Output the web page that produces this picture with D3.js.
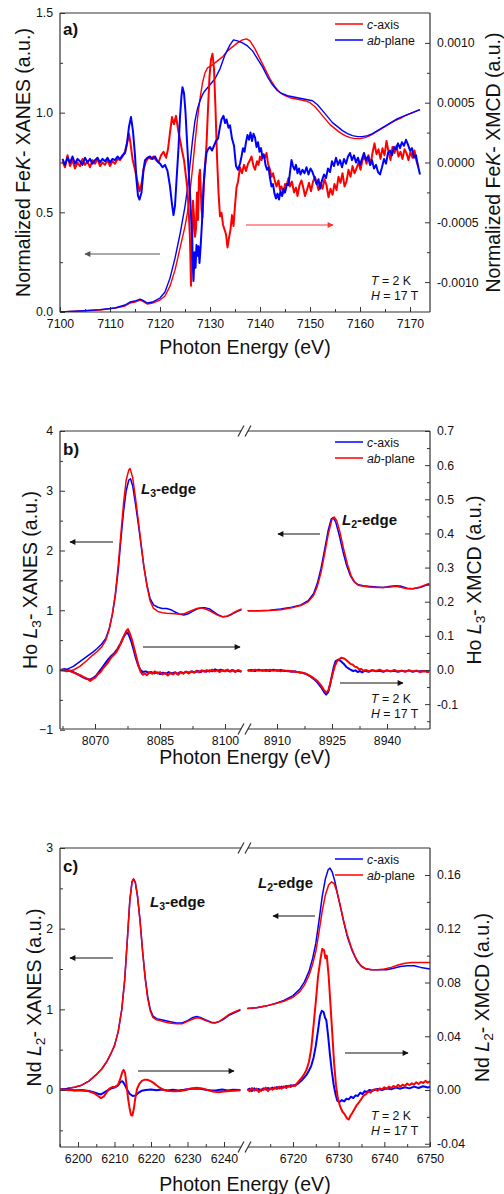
<!DOCTYPE html>
<html><head><meta charset="utf-8">
<script src="https://cdn.jsdelivr.net/npm/d3@7"></script>
<style>body{margin:0;background:#fff}svg{display:block;font-family:"Liberation Sans",Arial,sans-serif}</style>
</head><body><svg id="chart" width="504" height="1194"></svg>
<script>
// ---------------- Panel a: Fe K-edge ----------------
const feXanesC = [[7100,0.0],[7104,0.005],[7108,0.01],[7111,0.02],[7113,0.03],[7114,0.045],[7115,0.05],[7116,0.06],[7116.5,0.055],[7117.5,0.04],[7118.5,0.045],[7120,0.06],[7121,0.08],[7122,0.13],[7123,0.21],[7124,0.32],[7125,0.43],[7125.5,0.5],[7126,0.6],[7126.5,0.72],[7127,0.85],[7127.5,0.97],[7128,1.07],[7128.5,1.15],[7129,1.2],[7129.5,1.225],[7130.5,1.24],[7131.5,1.26],[7132.5,1.28],[7133.5,1.31],[7134.5,1.33],[7135.5,1.35],[7136.5,1.365],[7137.3,1.37],[7138,1.36],[7139,1.32],[7140,1.27],[7141,1.22],[7142,1.17],[7143,1.13],[7144,1.1],[7145,1.085],[7146,1.075],[7147,1.07],[7148,1.065],[7149,1.06],[7150,1.05],[7151,1.03],[7152,1.0],[7153,0.97],[7154,0.94],[7155,0.92],[7156,0.9],[7157,0.885],[7158,0.875],[7159,0.87],[7160,0.87],[7161,0.875],[7162,0.885],[7163,0.9],[7164,0.915],[7165,0.93],[7166,0.945],[7167,0.96],[7168,0.97],[7169,0.985],[7170,0.995],[7171,1.005],[7172,1.015]];
const feXanesAB = [[7100,0.0],[7104,0.005],[7108,0.012],[7111,0.02],[7113,0.035],[7114,0.05],[7115,0.055],[7116,0.065],[7116.5,0.06],[7117.5,0.045],[7118.5,0.05],[7120,0.07],[7121,0.1],[7122,0.17],[7123,0.27],[7124,0.39],[7125,0.53],[7125.5,0.62],[7126,0.74],[7126.5,0.86],[7127,0.96],[7127.5,1.02],[7128,1.06],[7128.5,1.09],[7129,1.11],[7130,1.14],[7131,1.17],[7132,1.22],[7133,1.29],[7134,1.34],[7134.7,1.365],[7135.5,1.36],[7136.5,1.35],[7137.5,1.335],[7138.5,1.31],[7139.5,1.27],[7140.5,1.23],[7141.5,1.18],[7142.5,1.14],[7143.5,1.11],[7144.5,1.095],[7145.5,1.085],[7146.5,1.08],[7147.5,1.075],[7148.5,1.07],[7149.5,1.065],[7150.5,1.06],[7151.5,1.04],[7152.5,1.01],[7153.5,0.98],[7154.5,0.95],[7155.5,0.93],[7156.5,0.91],[7157.5,0.895],[7158.5,0.885],[7159.5,0.88],[7160.5,0.88],[7161.5,0.885],[7162.5,0.895],[7163.5,0.91],[7164.5,0.925],[7165.5,0.94],[7166.5,0.955],[7167.5,0.97],[7168.5,0.98],[7169.5,0.99],[7170.5,1.0],[7171.5,1.01],[7172,1.015]];
// XMCD values in units of 1e-4
const feXmcdC = [[7100.5,0.1],[7101,-0.4],[7101.5,0.6],[7102,-0.3],[7102.5,0.2],[7103,-0.5],[7103.5,0.0],[7104,-0.3],[7104.5,0.3],[7105,-0.2],[7105.5,0.1],[7106,-0.4],[7106.5,0.2],[7107,-0.1],[7107.5,0.3],[7108,-0.3],[7108.5,0.0],[7109,-0.2],[7109.5,0.2],[7110,-0.3],[7110.5,0.1],[7111,-0.1],[7111.5,0.3],[7112,0.2],[7112.5,0.5],[7113,0.9],[7113.5,1.8],[7113.8,2.4],[7114.1,1.6],[7114.5,0.3],[7115,-0.6],[7115.5,-1.6],[7115.9,-2.4],[7116.3,-1.8],[7116.7,-0.6],[7117.2,0.1],[7117.7,0.4],[7118.2,0.3],[7118.7,0.5],[7119.2,0.2],[7119.7,0.0],[7120.2,0.6],[7120.7,0.9],[7121.2,0.4],[7121.6,1.1],[7122,2.5],[7122.4,3.8],[7122.8,3.2],[7123.2,3.9],[7123.6,2.8],[7124,1.9],[7124.4,1.0],[7124.8,0.2],[7125.2,-1.2],[7125.5,-2.3],[7125.8,-4.5],[7126,-6.5],[7126.2,-10.3],[7126.4,-8],[7126.6,-3.2],[7126.8,-4.5],[7127,-6.2],[7127.2,-5.5],[7127.4,-2.5],[7127.6,-4.8],[7127.8,-1.2],[7128,-0.6],[7128.3,-3.9],[7128.5,-4.6],[7128.8,-1.5],[7129,-0.4],[7129.3,1.5],[7129.6,4.5],[7129.9,7.2],[7130.2,8.6],[7130.5,9.1],[7130.8,7.8],[7131.1,4.5],[7131.4,0.5],[7131.7,-2.5],[7132,-4.5],[7132.3,-4.2],[7132.6,-5.2],[7132.9,-5.6],[7133.2,-6.0],[7133.5,-7.1],[7133.8,-6.3],[7134.1,-5.6],[7134.4,-4.4],[7134.7,-5.3],[7135,-3.6],[7135.3,-2.1],[7135.6,-1.6],[7136,-0.4],[7136.4,-0.9],[7136.8,-0.2],[7137.2,-0.7],[7137.6,-0.1],[7138,0.2],[7138.3,0.5],[7138.7,-0.3],[7139,-0.6],[7139.4,0.1],[7139.7,-0.2],[7140,0.5],[7140.3,0.2],[7140.7,0.7],[7141,0.4],[7141.3,0.8],[7141.6,-0.1],[7142,-0.6],[7142.3,-1.2],[7142.6,-0.9],[7143,-1.6],[7143.3,-2.0],[7143.7,-1.5],[7144,-2.3],[7144.3,-2.0],[7144.7,-2.6],[7145,-1.8],[7145.3,-1.9],[7145.7,-1.3],[7146,-2.0],[7146.4,-1.6],[7146.8,-2.5],[7147.2,-2.1],[7147.5,-2.8],[7147.9,-1.9],[7148.3,-1.5],[7148.7,-2.2],[7149,-2.8],[7149.4,-2.3],[7149.8,-1.7],[7150.2,-2.4],[7150.6,-1.6],[7151,-1.2],[7151.4,-1.8],[7151.7,-2.3],[7152.1,-1.7],[7152.5,-2.2],[7152.9,-1.4],[7153.3,-1.9],[7153.7,-2.9],[7154.1,-2.2],[7154.5,-2.7],[7154.9,-1.8],[7155.3,-2.3],[7155.7,-1.2],[7156.1,-1.7],[7156.5,-0.9],[7156.9,-2.0],[7157.3,-1.6],[7157.7,-0.6],[7158.1,-1.2],[7158.5,-0.3],[7158.9,-0.9],[7159.3,-0.5],[7159.7,0.0],[7160.1,-0.6],[7160.5,0.2],[7160.9,0.5],[7161.3,-0.1],[7161.7,0.6],[7162.1,-0.2],[7162.5,0.8],[7162.9,1.6],[7163.3,0.7],[7163.7,1.1],[7164.1,0.3],[7164.5,1.2],[7164.9,0.6],[7165.3,1.8],[7165.7,0.9],[7166.1,0.2],[7166.5,1.3],[7166.9,0.8],[7167.3,1.4],[7167.7,0.5],[7168.1,0.9],[7168.5,0.3],[7168.9,1.1],[7169.3,0.8],[7169.7,0.2],[7170.1,0.9],[7170.5,0.4],[7170.9,1.0],[7171.3,0.1],[7171.7,-0.4]];
const feXmcdAB = [[7100.5,0.3],[7101,-0.2],[7101.5,0.4],[7102,0.0],[7102.5,0.5],[7103,-0.1],[7103.5,0.3],[7104,0.1],[7104.5,-0.2],[7105,0.4],[7105.5,0.0],[7106,0.3],[7106.5,-0.1],[7107,0.2],[7107.5,0.4],[7108,0.0],[7108.5,0.3],[7109,0.1],[7109.5,0.4],[7110,0.0],[7110.5,0.3],[7111,0.2],[7111.5,0.5],[7112,0.3],[7112.5,0.6],[7113,0.8],[7113.4,1.6],[7113.8,3.0],[7114.2,3.8],[7114.6,2.6],[7115,0.6],[7115.3,-1.5],[7115.6,-2.8],[7115.9,-3.1],[7116.3,-2.5],[7116.7,-0.6],[7117,0.2],[7117.5,0.4],[7118,0.5],[7118.5,0.3],[7119,0.5],[7119.5,0.1],[7120,-0.1],[7120.5,-0.4],[7121,-0.2],[7121.5,-0.7],[7122,-2.0],[7122.4,-3.5],[7122.7,-4.4],[7123,-3.6],[7123.3,-1.5],[7123.7,1.2],[7124,3.8],[7124.3,5.6],[7124.5,6.3],[7124.8,5.8],[7125.1,4.2],[7125.4,1.8],[7125.7,-0.5],[7126,-2.6],[7126.3,-5.2],[7126.5,-7.5],[7126.7,-9.9],[7126.9,-7.5],[7127.1,-8.8],[7127.3,-6.9],[7127.5,-7.8],[7127.7,-7.0],[7127.9,-8.4],[7128.1,-7.2],[7128.4,-5.0],[7128.7,-2.0],[7129,-0.3],[7129.3,0.8],[7129.6,1.1],[7130,1.3],[7130.4,1.0],[7130.8,1.4],[7131.2,1.8],[7131.6,2.0],[7132,3.0],[7132.3,3.6],[7132.7,3.9],[7133,3.3],[7133.3,3.6],[7133.7,2.9],[7134,3.1],[7134.4,2.0],[7134.8,1.4],[7135.2,-0.3],[7135.6,-0.6],[7136,-0.1],[7136.3,0.5],[7136.6,1.2],[7136.9,0.9],[7137.2,1.7],[7137.5,2.3],[7137.8,1.9],[7138.1,2.5],[7138.4,1.8],[7138.7,2.4],[7139,2.1],[7139.3,1.3],[7139.6,1.7],[7139.9,0.9],[7140.2,1.2],[7140.5,0.4],[7140.8,0.6],[7141.1,-0.2],[7141.4,-0.6],[7141.7,-0.4],[7142,-1.3],[7142.3,-2.0],[7142.6,-1.8],[7142.9,-2.6],[7143.2,-3.0],[7143.5,-2.6],[7143.8,-3.1],[7144.1,-2.4],[7144.4,-2.8],[7144.7,-2.2],[7145,-2.5],[7145.4,-1.8],[7145.7,-1.9],[7146,-0.8],[7146.3,0.2],[7146.6,-0.3],[7146.9,-0.6],[7147.2,-0.2],[7147.5,-0.9],[7147.8,-0.5],[7148.1,-1.0],[7148.5,-0.6],[7148.9,-0.9],[7149.3,-0.4],[7149.7,-1.0],[7150.1,-0.5],[7150.5,-0.8],[7150.9,-1.3],[7151.3,-1.8],[7151.7,-1.4],[7152,-2.2],[7152.4,-1.5],[7152.8,-1.0],[7153.2,-1.3],[7153.6,-0.5],[7154,-0.8],[7154.4,0.1],[7154.8,-0.3],[7155.2,0.4],[7155.6,-0.2],[7156,0.2],[7156.4,-0.4],[7156.8,0.3],[7157.2,-0.1],[7157.6,0.5],[7158,0.8],[7158.4,0.2],[7158.8,0.6],[7159.2,0.0],[7159.6,0.4],[7160,-0.2],[7160.4,0.3],[7160.8,0.8],[7161.2,0.2],[7161.6,0.5],[7162,-0.2],[7162.4,0.2],[7162.8,-0.5],[7163.2,-0.2],[7163.6,-0.8],[7164,-1.0],[7164.4,-0.4],[7164.8,0.3],[7165.2,-0.1],[7165.6,0.8],[7166,1.0],[7166.4,0.6],[7166.8,1.3],[7167.2,1.1],[7167.6,1.6],[7168,1.2],[7168.4,1.7],[7168.8,1.4],[7169.2,1.9],[7169.6,1.5],[7170,1.0],[7170.4,1.2],[7170.8,0.4],[7171.2,0.6],[7171.6,-0.3],[7172,-1.0]];
const feXTicks = [7100,7110,7120,7130,7140,7150,7160,7170];
const feYLTicks = [0,0.5,1.0,1.5];
const feYRTicks = [-0.0010,-0.0005,0,0.0005,0.0010];

// ---------------- Panel b: Ho L3 / L2 ----------------
const hoXanesC_L3 = [[8062,0.0],[8063.5,0.01],[8065,0.06],[8066.5,0.14],[8068,0.22],[8069.5,0.3],[8070.5,0.36],[8071.5,0.43],[8072.5,0.53],[8073.3,0.7],[8074,0.93],[8074.7,1.25],[8075.4,1.7],[8076,2.2],[8076.6,2.66],[8077.2,3.0],[8077.8,3.18],[8078.2,3.2],[8078.7,3.08],[8079.3,2.8],[8080,2.44],[8080.7,2.05],[8081.3,1.72],[8082,1.42],[8082.7,1.2],[8083.5,1.09],[8084.5,1.05],[8085.5,1.03],[8086.5,1.03],[8087.5,1.01],[8088.5,0.97],[8089.5,0.935],[8090.5,0.92],[8091.5,0.94],[8092.5,0.98],[8093.5,1.02],[8094.5,1.04],[8095.5,1.04],[8096.5,1.02],[8097.5,0.97],[8098.5,0.92],[8099.5,0.89],[8100.5,0.9],[8101.5,0.93],[8102.5,0.97],[8103.8,1.01]];
const hoXanesAB_L3 = [[8062,-0.01],[8063.5,-0.02],[8065,0.0],[8066.5,0.06],[8068,0.15],[8069.5,0.25],[8070.5,0.31],[8071.5,0.38],[8072.5,0.5],[8073.3,0.68],[8074,0.93],[8074.7,1.28],[8075.4,1.78],[8076,2.3],[8076.6,2.8],[8077.2,3.18],[8077.8,3.35],[8078.1,3.37],[8078.7,3.22],[8079.3,2.9],[8080,2.5],[8080.7,2.08],[8081.3,1.72],[8082,1.4],[8082.7,1.16],[8083.5,1.03],[8084.5,0.98],[8085.5,0.96],[8086.5,0.95],[8087.5,0.945],[8088.5,0.94],[8089.5,0.935],[8090.5,0.94],[8091.5,0.97],[8092.5,1.0],[8093.5,1.03],[8094.5,1.04],[8095.5,1.02],[8096.5,0.99],[8097.5,0.95],[8098.5,0.91],[8099.5,0.89],[8100.5,0.9],[8101.5,0.94],[8102.5,0.98],[8103.8,1.02]];
const hoXanesC_L2 = [[8902,0.99],[8905,0.99],[8908,1.0],[8911,1.02],[8914,1.05],[8916.5,1.09],[8918.5,1.16],[8920,1.28],[8921,1.45],[8922,1.7],[8923,2.02],[8924,2.35],[8924.8,2.53],[8925.3,2.55],[8926,2.48],[8927,2.25],[8928,1.98],[8929,1.75],[8930,1.58],[8931,1.48],[8932,1.43],[8933.5,1.41],[8935,1.4],[8937,1.39],[8939,1.38],[8941,1.4],[8942.5,1.41],[8944,1.4],[8945.5,1.37],[8947,1.36],[8949,1.38],[8951.5,1.44]];
const hoXanesAB_L2 = [[8902,0.99],[8905,0.99],[8908,0.995],[8911,1.01],[8914,1.04],[8916.5,1.08],[8918.5,1.14],[8920,1.25],[8921,1.4],[8922,1.63],[8923,1.95],[8924,2.28],[8925,2.52],[8925.6,2.56],[8926.3,2.5],[8927.2,2.3],[8928.2,2.02],[8929.2,1.77],[8930.2,1.58],[8931.2,1.47],[8932.2,1.42],[8933.5,1.4],[8935,1.39],[8937,1.38],[8939,1.38],[8941,1.39],[8942.5,1.4],[8944,1.38],[8945.5,1.36],[8947,1.36],[8949,1.39],[8951.5,1.45]];
const hoXmcdC_L3 = [[8062,0.0],[8063,0.003],[8064,-0.002],[8065,-0.006],[8066,-0.012],[8067,-0.02],[8068,-0.026],[8068.8,-0.028],[8069.5,-0.024],[8070.3,-0.016],[8071,-0.004],[8071.7,0.008],[8072.4,0.02],[8073.1,0.032],[8073.8,0.042],[8074.5,0.05],[8075.2,0.062],[8075.9,0.078],[8076.5,0.095],[8077,0.105],[8077.5,0.11],[8077.9,0.1],[8078.4,0.082],[8078.9,0.06],[8079.4,0.036],[8079.9,0.016],[8080.4,0.002],[8081,-0.006],[8081.7,-0.004],[8082.4,-0.008],[8083,-0.006],[8083.7,-0.01],[8084.4,-0.007],[8085,-0.012],[8085.7,-0.008],[8086.4,-0.011],[8087,-0.006],[8087.7,-0.01],[8088.4,-0.007],[8089,-0.011],[8089.7,-0.006],[8090.4,-0.009],[8091,-0.005],[8091.7,-0.008],[8092.4,-0.004],[8093,-0.007],[8093.7,-0.003],[8094.4,-0.006],[8095,-0.002],[8095.7,-0.005],[8096.4,-0.001],[8097,-0.004],[8097.7,0.002],[8098.4,-0.002],[8099,0.001],[8099.7,-0.003],[8100.4,-0.001],[8101,-0.004],[8101.7,0.0],[8102.4,-0.004],[8103,-0.002],[8103.8,-0.005]];
const hoXmcdAB_L3 = [[8062,-0.002],[8062.7,0.002],[8063.4,-0.004],[8064.1,-0.001],[8064.8,-0.006],[8065.5,-0.01],[8066.2,-0.014],[8066.9,-0.017],[8067.6,-0.022],[8068.3,-0.026],[8068.9,-0.032],[8069.5,-0.026],[8070.1,-0.022],[8070.7,-0.012],[8071.3,-0.006],[8071.9,0.006],[8072.5,0.014],[8073.1,0.024],[8073.7,0.036],[8074.3,0.044],[8074.9,0.052],[8075.5,0.066],[8076.1,0.082],[8076.7,0.1],[8077.2,0.114],[8077.6,0.12],[8078,0.108],[8078.5,0.09],[8079,0.066],[8079.5,0.04],[8080,0.015],[8080.5,-0.005],[8081,-0.014],[8081.5,-0.01],[8082,-0.015],[8082.6,-0.006],[8083.2,-0.011],[8083.8,-0.004],[8084.4,-0.01],[8085,-0.006],[8085.6,-0.013],[8086.2,-0.008],[8086.8,-0.016],[8087.4,-0.009],[8088,-0.013],[8088.6,-0.007],[8089.2,-0.014],[8089.8,-0.006],[8090.4,-0.011],[8091,-0.005],[8091.6,-0.01],[8092.2,-0.004],[8092.8,-0.008],[8093.4,-0.002],[8094,-0.007],[8094.6,-0.001],[8095.2,-0.005],[8095.8,0.0],[8096.4,-0.005],[8097,0.001],[8097.6,-0.004],[8098.2,-0.001],[8098.8,-0.006],[8099.4,0.0],[8100,-0.004],[8100.6,0.001],[8101.2,-0.005],[8101.8,-0.001],[8102.4,-0.006],[8103,0.0],[8103.8,-0.004]];
const hoXmcdC_L2 = [[8902,-0.002],[8903,0.0],[8904,-0.003],[8905,0.001],[8906,-0.002],[8907,0.0],[8908,-0.003],[8909,0.001],[8910,-0.002],[8911,0.0],[8912,-0.003],[8913,-0.002],[8914,-0.005],[8915,-0.004],[8916,-0.007],[8917,-0.008],[8918,-0.012],[8919,-0.018],[8920,-0.026],[8921,-0.036],[8922,-0.05],[8922.8,-0.064],[8923.4,-0.072],[8924,-0.064],[8924.5,-0.042],[8925,-0.015],[8925.5,0.01],[8926,0.026],[8926.6,0.03],[8927.2,0.028],[8927.8,0.022],[8928.4,0.016],[8929,0.008],[8929.6,0.004],[8930.2,0.0],[8930.8,-0.003],[8931.4,-0.001],[8932,-0.006],[8932.6,-0.003],[8933.2,-0.007],[8934,-0.002],[8935,-0.005],[8936,-0.001],[8937,-0.004],[8938,-0.002],[8939,-0.005],[8940,-0.001],[8941,-0.004],[8942,-0.002],[8943,-0.005],[8944,-0.002],[8945,-0.004],[8946,-0.001],[8947,-0.005],[8948,-0.002],[8949,-0.004],[8950,-0.003],[8951.5,-0.005]];
const hoXmcdAB_L2 = [[8902,0.0],[8903,-0.003],[8904,0.001],[8905,-0.002],[8906,0.0],[8907,-0.003],[8908,0.001],[8909,-0.002],[8910,0.0],[8911,-0.004],[8912,-0.001],[8913,-0.004],[8914,-0.003],[8915,-0.006],[8916,-0.006],[8917,-0.009],[8918,-0.011],[8919,-0.017],[8920,-0.024],[8921,-0.032],[8922,-0.045],[8922.8,-0.058],[8923.4,-0.066],[8924,-0.06],[8924.6,-0.036],[8925.2,-0.01],[8925.8,0.012],[8926.4,0.026],[8927,0.032],[8927.6,0.036],[8928.2,0.034],[8928.8,0.03],[8929.4,0.024],[8930,0.018],[8930.6,0.016],[8931.2,0.01],[8931.8,0.008],[8932.4,0.002],[8933,0.003],[8933.6,-0.002],[8934.3,0.0],[8935,-0.004],[8936,0.0],[8937,-0.003],[8938,0.001],[8939,-0.004],[8940,-0.001],[8941,-0.004],[8942,0.0],[8943,-0.004],[8944,-0.002],[8945,-0.005],[8946,-0.001],[8947,-0.004],[8948,-0.002],[8949,-0.006],[8950,-0.003],[8951.5,-0.006]];
const hoXTicksL = [8070,8085,8100];
const hoXTicksR = [8910,8925,8940];
const hoYLTicks = [-1,0,1,2,3,4];
const hoYRTicks = [-0.1,0.0,0.1,0.2,0.3,0.4,0.5,0.6,0.7];

// ---------------- Panel c: Nd L3 / L2 ----------------
const ndXanesC_L3 = [[6195,0.01],[6197,0.02],[6199,0.035],[6201,0.06],[6203,0.11],[6205,0.19],[6206.5,0.26],[6208,0.36],[6209,0.45],[6210,0.55],[6211,0.72],[6212,1.0],[6212.8,1.37],[6213.5,1.85],[6214.2,2.35],[6214.8,2.58],[6215.2,2.61],[6215.7,2.57],[6216.3,2.4],[6217,2.1],[6217.7,1.72],[6218.4,1.4],[6219.1,1.16],[6219.8,1.0],[6220.5,0.92],[6221.5,0.885],[6222.5,0.875],[6223.5,0.865],[6225,0.85],[6227,0.83],[6228.5,0.83],[6230,0.86],[6231.5,0.9],[6232.5,0.91],[6233.5,0.9],[6235,0.87],[6236.5,0.84],[6237.5,0.835],[6238.5,0.845],[6240,0.88],[6241.5,0.93],[6243,0.96],[6244.5,0.99]];
const ndXanesAB_L3 = [[6195,0.01],[6197,0.02],[6199,0.035],[6201,0.06],[6203,0.11],[6205,0.19],[6206.5,0.26],[6208,0.36],[6209,0.45],[6210,0.55],[6211,0.72],[6212,1.0],[6212.8,1.37],[6213.5,1.85],[6214.2,2.35],[6214.8,2.58],[6215.2,2.62],[6215.7,2.58],[6216.3,2.41],[6217,2.1],[6217.7,1.72],[6218.4,1.38],[6219.1,1.13],[6219.8,0.98],[6220.5,0.9],[6221.5,0.87],[6222.5,0.86],[6223.5,0.845],[6225,0.83],[6227,0.82],[6228.5,0.82],[6230,0.85],[6231.5,0.88],[6232.5,0.895],[6233.5,0.89],[6235,0.86],[6236.5,0.835],[6237.5,0.83],[6238.5,0.845],[6240,0.89],[6241.5,0.94],[6243,0.97],[6244.5,1.0]];
const ndXanesC_L2 = [[6710,1.01],[6712,1.02],[6714,1.04],[6716,1.07],[6718,1.11],[6720,1.17],[6721.5,1.25],[6722.5,1.34],[6723.5,1.47],[6724.3,1.63],[6725,1.82],[6725.7,2.1],[6726.4,2.4],[6727.1,2.62],[6727.7,2.73],[6728.1,2.75],[6728.6,2.7],[6729.2,2.58],[6729.8,2.42],[6730.5,2.24],[6731.2,2.06],[6732,1.88],[6733,1.72],[6734,1.6],[6735,1.53],[6736,1.5],[6737.5,1.49],[6739,1.49],[6740.5,1.49],[6742,1.51],[6743.5,1.53],[6745,1.54],[6746.5,1.54],[6748,1.52],[6750,1.5]];
const ndXanesAB_L2 = [[6710,1.01],[6712,1.02],[6714,1.04],[6716,1.07],[6718,1.1],[6720,1.15],[6721.5,1.22],[6722.5,1.3],[6723.5,1.42],[6724.3,1.56],[6725,1.72],[6725.7,1.96],[6726.4,2.22],[6727.1,2.42],[6727.8,2.54],[6728.4,2.58],[6729,2.56],[6729.6,2.46],[6730.3,2.3],[6731,2.12],[6731.8,1.94],[6732.7,1.78],[6733.7,1.64],[6734.7,1.55],[6735.7,1.51],[6737,1.49],[6738.5,1.49],[6740,1.5],[6741.5,1.52],[6743,1.55],[6744.5,1.57],[6746,1.58],[6748,1.58],[6750,1.58]];
const ndXmcdC_L3 = [[6195,0.0],[6197,0.0005],[6199,-0.0003],[6201,0.0],[6203,-0.0008],[6204.5,-0.0018],[6205.5,-0.0028],[6206.3,-0.0033],[6207,-0.0022],[6208,-0.0005],[6209,0.001],[6210,0.0018],[6211,0.0035],[6211.7,0.0062],[6212.2,0.0065],[6212.8,0.004],[6213.5,0.0],[6214.2,-0.003],[6215,-0.0045],[6215.8,-0.004],[6216.6,-0.002],[6217.5,-0.0005],[6218.5,0.0],[6220,0.0003],[6221.5,-0.0002],[6223,0.0003],[6224.5,-0.0004],[6226,0.0002],[6227.5,-0.0003],[6229,0.0002],[6230.5,0.0008],[6232,0.0012],[6233.5,0.001],[6235,0.0002],[6236.5,-0.0004],[6238,-0.0002],[6239.5,0.0003],[6241,-0.0003],[6242.5,0.0002],[6244.5,0.0]];
const ndXmcdAB_L3 = [[6195,0.0],[6197,0.0],[6199,-0.0002],[6201,-0.0004],[6203,-0.001],[6204.5,-0.0025],[6205.5,-0.0045],[6206.3,-0.006],[6207,-0.005],[6207.8,-0.002],[6208.6,0.001],[6209.4,0.0022],[6210.2,0.0022],[6211,0.004],[6211.6,0.0085],[6212.1,0.013],[6212.5,0.015],[6212.9,0.0125],[6213.3,0.004],[6213.7,-0.006],[6214.1,-0.013],[6214.5,-0.0185],[6214.9,-0.019],[6215.3,-0.014],[6215.7,-0.006],[6216.2,0.001],[6216.8,0.0045],[6217.5,0.0068],[6218.3,0.0077],[6219,0.0076],[6219.8,0.0068],[6220.6,0.0055],[6221.5,0.0035],[6222.5,0.0015],[6223.5,0.0],[6225,-0.0008],[6226.5,-0.0009],[6228,-0.0007],[6229.5,0.0],[6231,0.0012],[6232.5,0.0017],[6234,0.0012],[6235.5,0.0],[6237,-0.0012],[6238.5,-0.0016],[6240,-0.0012],[6241.5,-0.0008],[6243,-0.0005],[6244.5,-0.0002]];
const ndXmcdC_L2 = [[6710,0.0],[6710.5,0.001],[6711,-0.0008],[6711.5,0.0012],[6712,-0.0002],[6712.5,0.0008],[6713,-0.0005],[6713.5,0.0012],[6714,0.0003],[6714.5,0.0015],[6715,0.0005],[6715.5,0.0018],[6716,0.001],[6716.5,0.0022],[6717,0.0012],[6717.5,0.0025],[6718,0.0018],[6718.5,0.003],[6719,0.0025],[6719.5,0.0035],[6720,0.003],[6720.5,0.0038],[6721,0.0045],[6721.5,0.006],[6722,0.0075],[6722.5,0.0095],[6723,0.0115],[6723.5,0.0145],[6724,0.018],[6724.5,0.024],[6725,0.033],[6725.5,0.045],[6725.9,0.055],[6726.3,0.059],[6726.7,0.058],[6727,0.054],[6727.3,0.052],[6727.7,0.04],[6728.1,0.026],[6728.5,0.014],[6728.9,0.004],[6729.3,-0.003],[6729.7,-0.008],[6730.2,-0.009],[6730.7,-0.0075],[6731.2,-0.0085],[6731.7,-0.0065],[6732.2,-0.007],[6732.7,-0.005],[6733.2,-0.006],[6733.7,-0.004],[6734.2,-0.0045],[6734.7,-0.002],[6735.2,-0.003],[6735.7,-0.0008],[6736.2,-0.0015],[6736.7,0.0],[6737.5,-0.0005],[6738.5,0.0008],[6739.5,0.0],[6740.5,0.0012],[6741.5,0.0005],[6742.5,0.0018],[6743.5,0.001],[6744.5,0.002],[6745.5,0.0012],[6746.5,0.0025],[6747.5,0.0015],[6748.5,0.0028],[6749.5,0.0018],[6750,0.0025]];
const ndXmcdAB_L2 = [[6710,0.0005],[6710.5,-0.001],[6711,0.0015],[6711.5,-0.0005],[6712,0.001],[6712.5,-0.0015],[6713,0.0005],[6713.5,0.0],[6714,0.0018],[6714.5,-0.0008],[6715,0.0012],[6715.5,0.0002],[6716,0.002],[6716.5,0.0008],[6717,0.0025],[6717.5,0.001],[6718,0.0028],[6718.5,0.0015],[6719,0.0032],[6719.5,0.0022],[6720,0.0035],[6720.5,0.003],[6721,0.0055],[6721.5,0.0075],[6722,0.0095],[6722.5,0.012],[6723,0.0155],[6723.5,0.021],[6724,0.031],[6724.5,0.048],[6725,0.066],[6725.5,0.085],[6726,0.097],[6726.4,0.105],[6726.8,0.104],[6727.1,0.098],[6727.4,0.1],[6727.8,0.085],[6728.2,0.064],[6728.6,0.042],[6729,0.02],[6729.4,0.004],[6729.8,-0.006],[6730.3,-0.012],[6730.8,-0.016],[6731.3,-0.018],[6731.8,-0.021],[6732.2,-0.022],[6732.6,-0.019],[6733,-0.017],[6733.5,-0.014],[6734,-0.011],[6734.5,-0.009],[6735,-0.0065],[6735.5,-0.004],[6736,-0.003],[6736.5,-0.0012],[6737,-0.002],[6737.5,0.0],[6738,0.0005],[6738.5,-0.0005],[6739,0.0012],[6739.5,0.0005],[6740,0.002],[6740.5,0.0008],[6741,0.0025],[6741.5,0.0015],[6742,0.003],[6742.5,0.002],[6743,0.0038],[6743.5,0.0025],[6744,0.004],[6744.5,0.003],[6745,0.0048],[6745.5,0.0035],[6746,0.005],[6746.5,0.004],[6747,0.0058],[6747.5,0.0045],[6748,0.006],[6748.5,0.0052],[6749,0.0068],[6749.5,0.0055],[6750,0.0065]];
const ndXTicksL = [6200,6210,6220,6230,6240];
const ndXTicksR = [6720,6730,6740,6750];
const ndYLTicks = [0,1,2,3];
const ndYRTicks = [-0.04,0.00,0.04,0.08,0.12,0.16];

// ---------------- Drawing ----------------
const RED = '#ff0000', BLUE = '#0000ff', AX = '#333';
const FS = 12.3, TFS = 19.5;
const L = 60, R = 430;
const svg = d3.select('#chart');
const defs = svg.append('defs');
function marker(id, color) {
  defs.append('marker').attr('id', id).attr('viewBox', '0 0 10 10').attr('refX', 9).attr('refY', 5)
    .attr('markerWidth', 8).attr('markerHeight', 6).attr('markerUnits', 'userSpaceOnUse').attr('orient', 'auto')
    .append('path').attr('d', 'M0,0 L10,5 L0,10 z').attr('fill', color);
}
marker('mk', '#111'); marker('mg', '#555'); marker('mr', '#ff3030');

function rich(g, parts, attrs) {
  const t = g.append('text');
  Object.entries(attrs).forEach(([k, v]) => t.attr(k, v));
  let shifted = false;
  parts.forEach(p => {
    const s = t.append('tspan').text(p.t);
    if (p.i) s.attr('font-style', 'italic');
    if (p.sub) { s.attr('font-size', '70%').attr('dy', '0.3em'); shifted = true; }
    else if (shifted) { s.attr('dy', '-0.21em'); shifted = false; }
  });
  return t;
}
function arrow(g, x1, y, x2, color, mk, w) {
  g.append('line').attr('x1', x1).attr('y1', y).attr('x2', x2).attr('y2', y)
    .attr('stroke', color).attr('stroke-width', w).attr('marker-end', `url(#${mk})`);
}
function styleAxis(sel, minor) {
  sel.select('.domain').remove();
  sel.selectAll('.tick line').attr('stroke', AX).attr('stroke-width', 1);
  if (minor) sel.selectAll('.tick text').remove();
  else sel.selectAll('.tick text').attr('fill', '#111').attr('font-size', FS).attr('font-family', '"Liberation Sans",Arial,sans-serif');
}

function panel(o) {
  const g = svg.append('g');
  const top = o.top, bot = o.bot;
  const yL = d3.scaleLinear().domain(o.yLdom).range(o.yLrng);
  const yR = d3.scaleLinear().domain(o.yRdom).range(o.yRrng);
  o.segs.forEach((s, i) => {
    const x = d3.scaleLinear().domain(s.dom).range(s.rng);
    const cid = `clip${o.id}${i}`;
    defs.append('clipPath').attr('id', cid).append('rect')
      .attr('x', s.x0).attr('y', top).attr('width', s.x1 - s.x0).attr('height', bot - top);
    const lg = g.append('g').attr('clip-path', `url(#${cid})`);
    s.series.forEach(se => {
      const y = se.axis === 'L' ? yL : yR;
      const k = se.k || 1;
      lg.append('path').datum(se.data)
        .attr('d', d3.line().x(d => x(d[0])).y(d => y(d[1] * k)))
        .attr('fill', 'none').attr('stroke', se.color).attr('stroke-width', se.w).attr('stroke-linejoin', 'round');
    });
    const major = g.append('g').attr('transform', `translate(0,${bot})`)
      .call(d3.axisBottom(x).tickValues(s.ticks).tickSize(-5).tickPadding(7.6).tickFormat(d3.format('d')));
    styleAxis(major, false);
    const minor = g.append('g').attr('transform', `translate(0,${bot})`)
      .call(d3.axisBottom(x).tickValues(s.minor).tickSize(-3).tickFormat(''));
    styleAxis(minor, true);
  });
  const la = g.append('g').attr('transform', `translate(${L},0)`)
    .call(d3.axisLeft(yL).tickValues(o.yLticks).tickSize(-5).tickPadding(7).tickFormat(o.yLfmt));
  styleAxis(la, false);
  const lm = g.append('g').attr('transform', `translate(${L},0)`)
    .call(d3.axisLeft(yL).tickValues(o.yLminor).tickSize(-3).tickFormat(''));
  styleAxis(lm, true);
  const ra = g.append('g').attr('transform', `translate(${R},0)`)
    .call(d3.axisRight(yR).tickValues(o.yRticks).tickSize(-5).tickPadding(7).tickFormat(o.yRfmt));
  styleAxis(ra, false);
  const rm = g.append('g').attr('transform', `translate(${R},0)`)
    .call(d3.axisRight(yR).tickValues(o.yRminor).tickSize(-3).tickFormat(''));
  styleAxis(rm, true);
  const fr = g.append('g').attr('stroke', AX).attr('stroke-width', 1.2).attr('fill', 'none');
  const ln = (x1, y1, x2, y2) => fr.append('line').attr('x1', x1).attr('y1', y1).attr('x2', x2).attr('y2', y2);
  ln(L, top, L, bot); ln(R, top, R, bot);
  if (o.brk) {
    [top, bot].forEach(yy => {
      ln(L, yy, 241, yy); ln(248, yy, R, yy);
      [241, 248].forEach(cx => ln(cx - 3, yy + 5.5, cx + 3, yy - 5.5));
    });
  } else { ln(L, top, R, top); ln(L, bot, R, bot); }
  g.append('text').attr('x', (L + R) / 2).attr('y', o.xTitleY).attr('text-anchor', 'middle')
    .attr('font-size', TFS).attr('fill', '#111').text('Photon Energy (eV)');
  const cy = (top + bot) / 2;
  rich(g, o.yLtitle, { transform: `translate(${o.yLtitleX},${cy}) rotate(-90)`, 'text-anchor': 'middle', dy: '0.35em', 'font-size': TFS, fill: '#111' });
  rich(g, o.yRtitle, { transform: `translate(${o.yRtitleX},${cy}) rotate(-90)`, 'text-anchor': 'middle', dy: '0.35em', 'font-size': TFS, fill: '#111' });
  g.append('text').attr('x', 63).attr('y', o.labY).attr('font-size', 17).attr('font-weight', 'bold').attr('fill', '#111').text(o.lab);
  o.legend.forEach((it, i) => {
    const yy = o.legY + i * 16;
    g.append('line').attr('x1', 335).attr('x2', 363).attr('y1', yy).attr('y2', yy).attr('stroke', it.color).attr('stroke-width', 1.5);
    rich(g, it.parts, { x: 367, y: yy + 4.5, 'font-size': FS, fill: '#111' });
  });
  rich(g, [{ t: 'T', i: 1 }, { t: ' = 2 K' }], { x: 371, y: o.thY, 'font-size': FS, fill: '#111' });
  rich(g, [{ t: 'H', i: 1 }, { t: ' = 17 T' }], { x: 371, y: o.thY + 15, 'font-size': FS, fill: '#111' });
  (o.notes || []).forEach(n => rich(g, n.parts, { x: n.x, y: n.y, 'font-size': 15, 'font-weight': 'bold', fill: '#111' }));
  (o.arrows || []).forEach(a => arrow(g, a[0], a[1], a[2], a[3], a[4], a[5]));
  return g;
}

const legCA = (c) => ({ color: c, parts: [{ t: 'c', i: 1 }, { t: '-axis' }] });
const legAB = (c) => ({ color: c, parts: [{ t: 'ab', i: 1 }, { t: '-plane' }] });

panel({
  id: 'a', top: 13, bot: 312, brk: false,
  yLdom: [0, 1.5], yLrng: [312, 13], yRdom: [-0.00125, 0.00125], yRrng: [312, 13],
  yLticks: feYLTicks, yLminor: [0.25, 0.75, 1.25], yLfmt: d => d.toFixed(1),
  yRticks: feYRTicks, yRminor: [-0.00075, -0.00025, 0.00025, 0.00075], yRfmt: d => d.toFixed(4),
  segs: [{ dom: [7100, 7170], rng: [60, 410], x0: L, x1: R, ticks: feXTicks, minor: [7105, 7115, 7125, 7135, 7145, 7155, 7165],
    series: [
      { data: feXanesC, axis: 'L', color: RED, w: 1.4 },
      { data: feXanesAB, axis: 'L', color: BLUE, w: 1.4 },
      { data: feXmcdC, axis: 'R', color: RED, w: 2, k: 1e-4 },
      { data: feXmcdAB, axis: 'R', color: BLUE, w: 2, k: 1e-4 }
    ] }],
  xTitleY: 354,
  yLtitle: [{ t: 'Normalized Fe' }, { t: 'K', i: 1 }, { t: '- XANES (a.u.)' }], yLtitleX: 23,
  yRtitle: [{ t: 'Normalized Fe' }, { t: 'K', i: 1 }, { t: '- XMCD (a.u.)' }], yRtitleX: 493,
  lab: 'a)', labY: 35,
  legend: [legCA(RED), legAB(BLUE)], legY: 24, thY: 285,
  arrows: [[160, 254, 85, '#555', 'mg', 1], [246, 225, 333, '#ff3030', 'mr', 1]]
});

panel({
  id: 'b', top: 431, bot: 729, brk: true,
  yLdom: [0, 4], yLrng: [670, 431], yRdom: [0, 0.7], yRrng: [670, 431],
  yLticks: hoYLTicks, yLminor: [-0.5, 0.5, 1.5, 2.5, 3.5], yLfmt: d3.format('d'),
  yRticks: hoYRTicks, yRminor: [-0.15, -0.05, 0.05, 0.15, 0.25, 0.35, 0.45, 0.55, 0.65], yRfmt: d => d.toFixed(1),
  segs: [
    { dom: [8070, 8100], rng: [95, 225], x0: L, x1: 243, ticks: hoXTicksL, minor: [8062.5, 8077.5, 8092.5],
      series: [
        { data: hoXanesC_L3, axis: 'L', color: BLUE, w: 1.5 },
        { data: hoXanesAB_L3, axis: 'L', color: RED, w: 1.5 },
        { data: hoXmcdC_L3, axis: 'R', color: BLUE, w: 2 },
        { data: hoXmcdAB_L3, axis: 'R', color: RED, w: 2 }
      ] },
    { dom: [8910, 8940], rng: [277, 387], x0: 246, x1: R, ticks: hoXTicksR, minor: [8917.5, 8932.5, 8947.5],
      series: [
        { data: hoXanesC_L2, axis: 'L', color: BLUE, w: 1.5 },
        { data: hoXanesAB_L2, axis: 'L', color: RED, w: 1.5 },
        { data: hoXmcdC_L2, axis: 'R', color: BLUE, w: 2 },
        { data: hoXmcdAB_L2, axis: 'R', color: RED, w: 2 }
      ] }
  ],
  xTitleY: 764,
  yLtitle: [{ t: 'Ho ' }, { t: 'L', i: 1 }, { t: '3', sub: 1 }, { t: '- XANES (a.u.)' }], yLtitleX: 30,
  yRtitle: [{ t: 'Ho ' }, { t: 'L', i: 1 }, { t: '3', sub: 1 }, { t: '- XMCD (a.u.)' }], yRtitleX: 474,
  lab: 'b)', labY: 455,
  legend: [legCA(BLUE), legAB(RED)], legY: 442, thY: 703,
  notes: [
    { x: 141, y: 494, parts: [{ t: 'L', i: 1 }, { t: '3', sub: 1 }, { t: '-edge' }] },
    { x: 342, y: 525, parts: [{ t: 'L', i: 1 }, { t: '2', sub: 1 }, { t: '-edge' }] }
  ],
  arrows: [[113, 542, 70, '#111', 'mk', 1.2], [320, 534, 278, '#111', 'mk', 1.2], [143, 647, 240, '#111', 'mk', 1.2], [340, 683, 403, '#111', 'mk', 1.2]]
});

panel({
  id: 'c', top: 848, bot: 1147, brk: true,
  yLdom: [0, 3], yLrng: [1090, 848], yRdom: [0, 0.16], yRrng: [1090, 875],
  yLticks: ndYLTicks, yLminor: [-0.5, 0.5, 1.5, 2.5], yLfmt: d3.format('d'),
  yRticks: ndYRTicks, yRminor: [-0.02, 0.02, 0.06, 0.10, 0.14], yRfmt: d => d.toFixed(2),
  segs: [
    { dom: [6200, 6240], rng: [78, 224], x0: L, x1: 243, ticks: ndXTicksL, minor: [6195, 6205, 6215, 6225, 6235],
      series: [
        { data: ndXanesC_L3, axis: 'L', color: BLUE, w: 1.5 },
        { data: ndXanesAB_L3, axis: 'L', color: RED, w: 1.5 },
        { data: ndXmcdC_L3, axis: 'R', color: BLUE, w: 2 },
        { data: ndXmcdAB_L3, axis: 'R', color: RED, w: 2 }
      ] },
    { dom: [6720, 6750], rng: [293, 430], x0: 246, x1: R, ticks: ndXTicksR, minor: [6715, 6725, 6735, 6745],
      series: [
        { data: ndXanesC_L2, axis: 'L', color: BLUE, w: 1.5 },
        { data: ndXanesAB_L2, axis: 'L', color: RED, w: 1.5 },
        { data: ndXmcdC_L2, axis: 'R', color: BLUE, w: 2 },
        { data: ndXmcdAB_L2, axis: 'R', color: RED, w: 2 }
      ] }
  ],
  xTitleY: 1191,
  yLtitle: [{ t: 'Nd ' }, { t: 'L', i: 1 }, { t: '2', sub: 1 }, { t: '- XANES (a.u.)' }], yLtitleX: 34,
  yRtitle: [{ t: 'Nd ' }, { t: 'L', i: 1 }, { t: '2', sub: 1 }, { t: '- XMCD (a.u.)' }], yRtitleX: 482,
  lab: 'c)', labY: 872,
  legend: [legCA(BLUE), legAB(RED)], legY: 859, thY: 1120,
  notes: [
    { x: 150, y: 907, parts: [{ t: 'L', i: 1 }, { t: '3', sub: 1 }, { t: '-edge' }] },
    { x: 258, y: 888, parts: [{ t: 'L', i: 1 }, { t: '2', sub: 1 }, { t: '-edge' }] }
  ],
  arrows: [[113, 958, 70, '#111', 'mk', 1.2], [315, 916, 273, '#111', 'mk', 1.2], [138, 1071, 234, '#111', 'mk', 1.2], [345, 1053, 408, '#111', 'mk', 1.2]]
});
</script></body></html>
